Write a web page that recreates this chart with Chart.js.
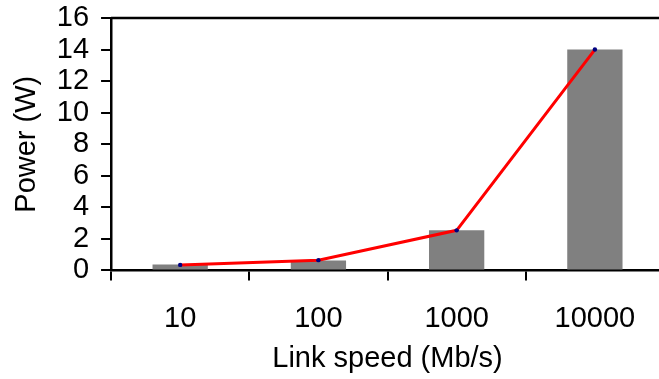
<!DOCTYPE html>
<html>
<head>
<meta charset="utf-8">
<script src="https://cdn.jsdelivr.net/npm/chart.js@4"></script>
<style>
  html, body { margin: 0; padding: 0; background: #fff; overflow: hidden; }
  #wrap { width: 668px; height: 379px; }
</style>
</head>
<body>
<div id="wrap"><canvas id="chart1"></canvas></div>
<script>
// link speeds and measured power draw
const speeds = ['10', '100', '1000', '10000'];
const powerBars = [0.37, 0.63, 2.54, 14];
const powerLine = [0.35, 0.65, 2.54, 14];
const yTicks = [0, 2, 4, 6, 8, 10, 12, 14, 16];

const font = { family: "'Liberation Sans', Arial, sans-serif", size: 29 };

// closes the plot box along its top edge
const topFrame = {
    id: 'topFrame',
    afterDraw(chart) {
        const { ctx, chartArea } = chart;
        ctx.save();
        ctx.strokeStyle = '#000';
        ctx.lineWidth = 2.5;
        ctx.beginPath();
        ctx.moveTo(chartArea.left, chartArea.top);
        ctx.lineTo(chartArea.right, chartArea.top);
        ctx.stroke();
        ctx.restore();
    }
};

const ctx = document.getElementById('chart1');
new Chart(ctx, {
    data: {
        labels: speeds,
        datasets: [{
            type: 'line',
            data: powerLine,
            borderColor: '#ff0000',
            borderWidth: 3,
            pointRadius: 2.2,
            pointBackgroundColor: '#000080',
            pointBorderColor: '#000080',
            pointBorderWidth: 0,
            tension: 0,
            order: 0
        }, {
            type: 'bar',
            data: powerBars,
            backgroundColor: '#808080',
            categoryPercentage: 0.4,
            barPercentage: 1,
            order: 1
        }]
    },
    options: {
        responsive: true,
        maintainAspectRatio: false,
        animation: false,
        layout: { padding: { top: 0, right: 0, bottom: 3, left: 10 } },
        plugins: { legend: { display: false }, tooltip: { enabled: false } },
        scales: {
            x: {
                type: 'category',
                offset: true,
                grid: { display: true, offset: true, drawOnChartArea: false, color: '#000', lineWidth: 2, tickLength: 10 },
                border: { color: '#000', width: 2.5 },
                ticks: { color: '#000', font: font, padding: 21, maxRotation: 0 },
                title: { display: true, text: 'Link speed (Mb/s)', color: '#000', font: font, padding: { top: -16, bottom: 0 } }
            },
            y: {
                min: 0,
                max: 16,
                afterBuildTicks: axis => { axis.ticks = yTicks.map(v => ({ value: v })); },
                // keep the label gap from pushing the plot top down
                afterFit: axis => { axis.paddingTop = 18; },
                grid: { display: true, drawOnChartArea: false, color: '#000', lineWidth: 2, tickLength: 10 },
                border: { color: '#000', width: 2.5 },
                ticks: { color: '#000', font: font, padding: 12, autoSkip: false },
                title: { display: true, text: 'Power (W)', color: '#000', font: font, padding: { top: 0, bottom: 0 } }
            }
        }
    },
    plugins: [topFrame]
});
</script>
</body>
</html>
